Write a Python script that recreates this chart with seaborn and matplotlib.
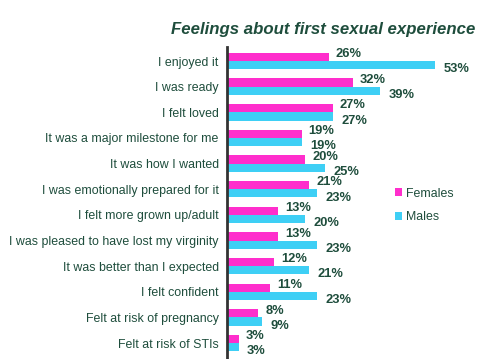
import matplotlib
matplotlib.use("Agg")
import matplotlib.pyplot as plt
import seaborn as sns
import pandas as pd

CATEGORIES = [
    "I enjoyed it",
    "I was ready",
    "I felt loved",
    "It was a major milestone for me",
    "It was how I wanted",
    "I was emotionally prepared for it",
    "I felt more grown up/adult",
    "I was pleased to have lost my virginity",
    "It was better than I expected",
    "I felt confident",
    "Felt at risk of pregnancy",
    "Felt at risk of STIs",
]
FEMALES = [26, 32, 27, 19, 20, 21, 13, 13, 12, 11, 8, 3]
MALES = [53, 39, 27, 19, 25, 23, 20, 23, 21, 23, 9, 3]
GROUPS = ["Females", "Males"]

COLOR_F = "#FF2ECC"
COLOR_M = "#3ECFF5"
TEXT_COLOR = "#1E4D3C"

df = pd.DataFrame({
    "item": CATEGORIES * 2,
    "group": [GROUPS[0]] * len(CATEGORIES) + [GROUPS[1]] * len(CATEGORIES),
    "pct": FEMALES + MALES,
})

sns.set_style("white")
plt.rcParams["font.family"] = ["Liberation Sans", "DejaVu Sans"]

fig = plt.figure(figsize=(4.8, 3.59), dpi=100)
ax = fig.add_axes([0.473, 0.0, 0.527, 0.869])

sns.barplot(
    data=df, y="item", x="pct", hue="group", orient="h",
    palette=[COLOR_F, COLOR_M], width=0.64, saturation=1,
    linewidth=0, ax=ax, legend=True,
)

ax.set_xlim(0, 64.5)
ax.set_ylim(11.62, -0.546)
ax.set_xlabel("")
ax.set_ylabel("")
ax.set_xticks([])
for side in ["top", "right", "bottom"]:
    ax.spines[side].set_visible(False)
ax.spines["left"].set_color("#333333")
ax.spines["left"].set_linewidth(2)
ax.tick_params(axis="y", length=0, pad=6, labelsize=8.9, labelcolor=TEXT_COLOR)

# etiquetas de valor
for container, (dx, dy) in zip(ax.containers, [(5, 2), (6, -3)]):
    for bar in container:
        w = bar.get_width()
        ax.annotate(f"{w:.0f}%", (w, bar.get_y() + bar.get_height() / 2),
                    xytext=(dx, dy), textcoords="offset points",
                    ha="left", va="center", fontsize=9.3, fontweight="bold",
                    color=TEXT_COLOR)

leg = ax.legend(loc="upper left", bbox_to_anchor=(0.62, 0.585), frameon=False,
                fontsize=8.9, handlelength=0.6, handleheight=0.6,
                handletextpad=0.3, labelspacing=0.95)
for t in leg.get_texts():
    t.set_color(TEXT_COLOR)

fig.text(0.673, 0.918, "Feelings about first sexual experience", ha="center",
         va="center", fontsize=12.1, fontweight="bold", fontstyle="italic",
         color=TEXT_COLOR)

fig.savefig("out.png", dpi=100)
